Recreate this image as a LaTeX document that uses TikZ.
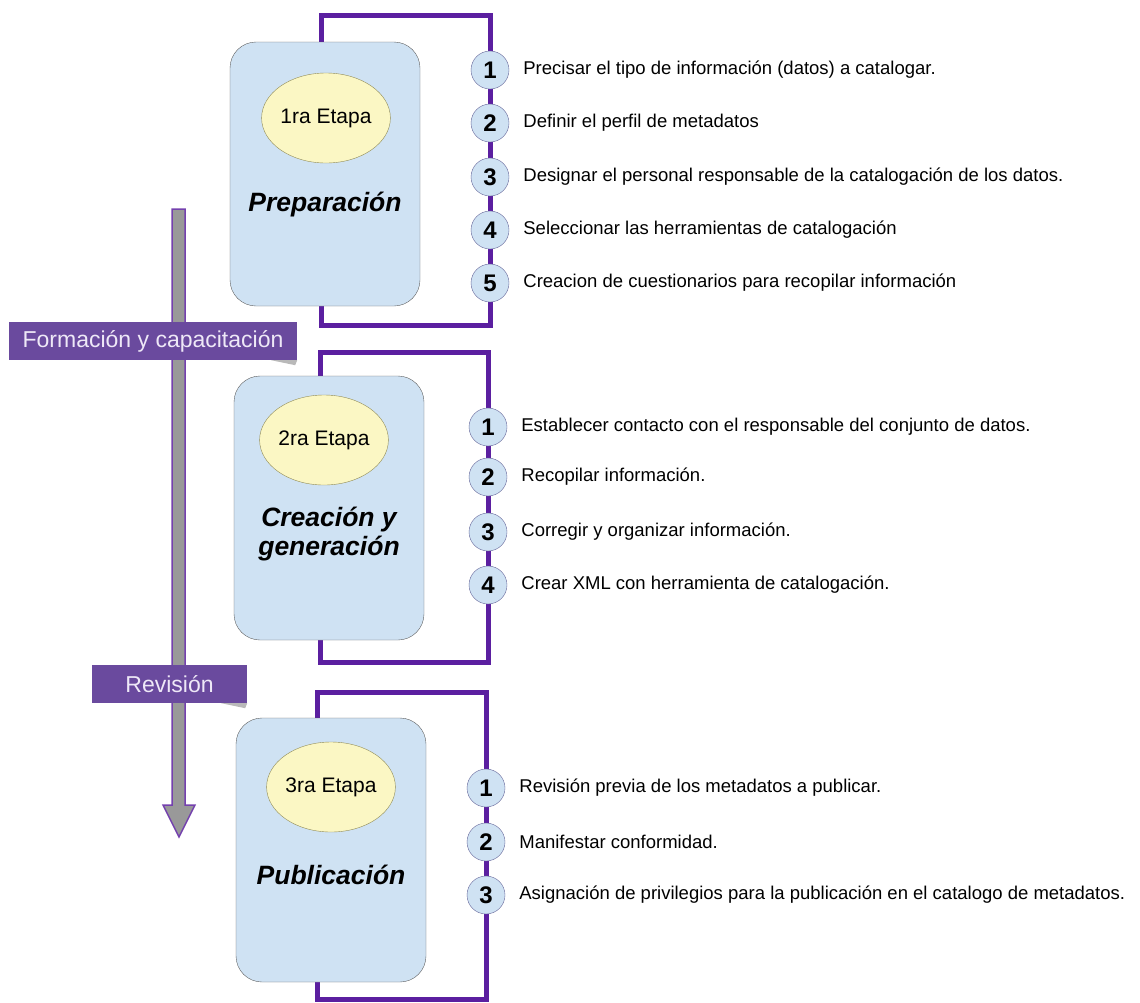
\documentclass[tikz,border=0pt]{standalone}
\usepackage{fontspec}
\setmainfont{Liberation Sans}
\usepackage{tikz}
\usetikzlibrary{calc,positioning,shapes.geometric,backgrounds}

\definecolor{violeta}{HTML}{5B1FA0}
\definecolor{banda}{HTML}{6A4A9E}
\definecolor{letraBanda}{HTML}{EEE8F7}
\definecolor{celeste}{HTML}{CFE2F3}
\definecolor{amarillo}{HTML}{FBF7C4}

\begin{document}
\begin{tikzpicture}[x=1pt, y=-1pt, font=\fontsize{18.5}{22}\selectfont]
  \useasboundingbox (0,0) rectangle (1140,1002);

  \tikzset{
    etapa/.style={draw=gray!75!black, fill=celeste, rounded corners=26pt,
      minimum width=190pt, minimum height=264pt, inner sep=0pt},
    ovalo/.style={ellipse, draw=gray!60!olive, fill=amarillo,
      minimum width=125pt, minimum height=90pt, inner sep=0pt,
      font=\fontsize{21}{24}\selectfont},
    titulo/.style={align=center, font=\fontsize{26.5}{29}\selectfont\bfseries\itshape},
    paso/.style={circle, draw=gray!80!blue, fill=celeste, minimum size=38pt,
      inner sep=0pt, font=\fontsize{24}{24}\selectfont\bfseries},
    texto/.style={anchor=west, inner sep=0pt},
    marco/.style={draw=violeta, line width=5pt},
    cinta/.style={fill=banda, text=letraBanda, inner sep=0pt,
      minimum height=38pt, font=\fontsize{23}{26}\selectfont}
  }

  % flecha lateral
  \draw[fill=gray!80, draw=violeta!85, line width=1.5pt]
    (172,209) -- (185,209) -- (185,805) -- (195,805) -- (179,837)
    -- (163,805) -- (172,805) -- cycle;

  \node[cinta, minimum width=288pt] (c1) at (153,341) {Formación y capacitación};
  \node[cinta, minimum width=155pt] (c2) at (169.5,684) {Revisión};
  \fill[gray!55] (c1.south east) -- ++(-26,0) -- ++(24,5) -- cycle;
  \fill[gray!55] (c2.south east) -- ++(-26,0) -- ++(24,5) -- cycle;

  % 1ra etapa
  \node[etapa] (e1) at (325,174) {};
  \node[ovalo] (o1) at (326,118) {1ra Etapa};
  \node[titulo] (t1) at (325,205) {Preparación};
  \foreach \n/\y/\t in {1/70/{Precisar el tipo de información (datos) a catalogar.},
                        2/123/{Definir el perfil de metadatos},
                        3/177/{Designar el personal responsable de la catalogación de los datos.},
                        4/230/{Seleccionar las herramientas de catalogación},
                        5/283/{Creacion de cuestionarios para recopilar información}} {
    \node[paso] (a\n) at (490,\y) {\n};
    \node[texto, right=14pt of a\n] (ta\n) {\t};
  }
  \begin{scope}[on background layer]
    \draw[marco] ([xshift=-4pt]e1.north) |- (a1 |- 0,15) -- (a5 |- 0,325)
      -| ([xshift=-4pt]e1.south);
  \end{scope}

  % 2ra etapa
  \node[etapa] (e2) at (329,508) {};
  \node[ovalo] (o2) at (324,440) {2ra Etapa};
  \node[titulo] (t2) at (329,534) {Creación y\\generación};
  \foreach \n/\y/\t in {1/427/{Establecer contacto con el responsable del conjunto de datos.},
                        2/477/{Recopilar información.},
                        3/532/{Corregir y organizar información.},
                        4/585/{Crear XML con herramienta de catalogación.}} {
    \node[paso] (b\n) at (488,\y) {\n};
    \node[texto, right=14pt of b\n] (tb\n) {\t};
  }
  \begin{scope}[on background layer]
    \draw[marco] ([xshift=-9pt]e2.north) |- (b1 |- 0,352) -- (b4 |- 0,662)
      -| ([xshift=-9pt]e2.south);
  \end{scope}

  % 3ra etapa
  \node[etapa] (e3) at (331,850) {};
  \node[ovalo] (o3) at (331,787) {3ra Etapa};
  \node[titulo] (t3) at (331,875) {Publicación};
  \foreach \n/\y/\t in {1/788/{Revisión previa de los metadatos a publicar.},
                        2/842/{Manifestar conformidad.},
                        3/895/{Asignación de privilegios para la publicación en el catalogo de metadatos.}} {
    \node[paso] (d\n) at (486,\y) {\n};
    \node[texto, right=14pt of d\n] (td\n) {\t};
  }
  \begin{scope}[on background layer]
    \draw[marco] ([xshift=-14pt]e3.north) |- (d1 |- 0,692) -- (d3 |- 0,999)
      -| ([xshift=-14pt]e3.south);
  \end{scope}
\end{tikzpicture}
\end{document}
